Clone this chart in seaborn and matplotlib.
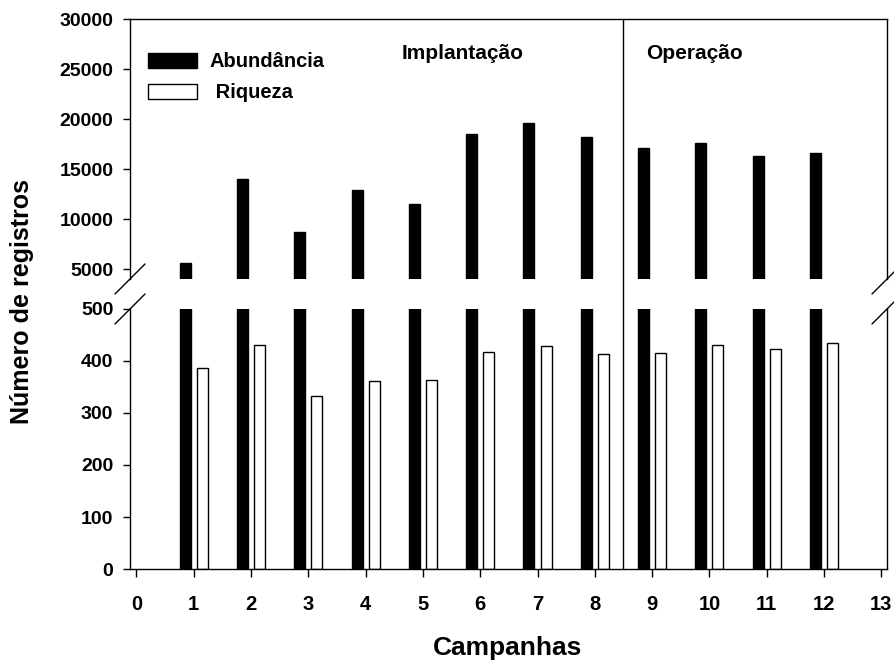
import pandas as pd
import matplotlib
matplotlib.use("Agg")
import matplotlib.pyplot as plt
from matplotlib.patches import Patch
from matplotlib import font_manager
import seaborn as sns

# Field campaigns and the two series recorded in each one
campanhas = [1, 2, 3, 4, 5, 6, 7, 8, 9, 10, 11, 12]
abundancia = [5600, 14000, 8670, 12900, 11550, 18530, 19600, 18170, 17130, 17570, 16300, 16600]
riqueza = [386, 430, 332, 362, 364, 418, 428, 414, 416, 430, 424, 434]
series = ["Abundância", "Riqueza"]
legend_labels = ["Abundância", " Riqueza"]

x_ticks = list(range(0, 14))
upper_ticks = [5000, 10000, 15000, 20000, 25000, 30000]
lower_ticks = [0, 100, 200, 300, 400, 500]
fases = ["Implantação", "Operação"]
fase_limite = 8.5

sns.set_theme(style="ticks")
plt.rcParams["font.family"] = ["Liberation Sans", "DejaVu Sans"]
plt.rcParams["font.weight"] = "bold"
plt.rcParams["axes.edgecolor"] = "black"
plt.rcParams["text.color"] = "black"
plt.rcParams["axes.labelcolor"] = "black"
plt.rcParams["xtick.color"] = "black"
plt.rcParams["ytick.color"] = "black"

available = {f.name for f in font_manager.fontManager.ttflist}
narrow = "Liberation Sans Narrow" if "Liberation Sans Narrow" in available else "Liberation Sans"

W, H = 894, 661
fig = plt.figure(figsize=(W / 100, H / 100), dpi=100)


def box(l, t, r, b):
    return [l / W, 1 - b / H, (r - l) / W, (b - t) / H]


ax_up = fig.add_axes(box(130, 19, 887, 279))
ax_lo = fig.add_axes(box(130, 309, 887, 569))

df = pd.DataFrame({
    "Campanha": campanhas * 2,
    "Série": [series[0]] * len(campanhas) + [series[1]] * len(campanhas),
    "Valor": abundancia + riqueza,
})
palette = {series[0]: "black", series[1]: "white"}

for ax in (ax_up, ax_lo):
    sns.barplot(data=df, x="Campanha", y="Valor", hue="Série", hue_order=series,
                palette=palette, native_scale=True, width=0.6, gap=0.36,
                dodge=True, edgecolor="black", linewidth=1, saturation=1,
                errorbar=None, legend=False, ax=ax)
    ax.set_xlim(-0.113, 13.1)
    ax.set_xlabel("")
    ax.set_ylabel("")
    for s in ax.spines.values():
        s.set_linewidth(1)
        s.set_color("black")
    ax.tick_params(axis="y", direction="out", length=5, width=1, pad=7,
                   labelsize=14)

# upper panel: large counts
ax_up.set_ylim(4000, 30000)
ax_up.set_yticks(upper_ticks)
ax_up.spines["bottom"].set_visible(False)
ax_up.tick_params(axis="x", bottom=False, labelbottom=False)

# lower panel: small counts
ax_lo.set_ylim(0, 500)
ax_lo.set_yticks(lower_ticks)
ax_lo.spines["top"].set_visible(False)
ax_lo.set_xticks(x_ticks)
ax_lo.set_xticklabels([str(t) for t in x_ticks], fontfamily=[narrow, "Liberation Sans"],
                      fontsize=14.5, fontweight="bold")
ax_lo.tick_params(axis="x", direction="out", length=6, width=1, pad=13)

for lab in ax_up.get_yticklabels() + ax_lo.get_yticklabels():
    lab.set_fontweight("bold")

# break marks on both vertical spines
dx_up, dy_up = 15 / 757, 15 / 260
for xc in (0, 1):
    for ax, yc in ((ax_up, 0), (ax_lo, 1)):
        ax.plot([xc - dx_up, xc + dx_up], [yc - dy_up, yc + dy_up],
                transform=ax.transAxes, color="black", lw=1, clip_on=False)

# phase divider spanning both panels
ax_lo.axvline(fase_limite, ymin=0, ymax=(569 - 19) / 260, color="black", lw=1,
              clip_on=False)

ax_up.text(0.44, 0.866, fases[0], transform=ax_up.transAxes, ha="center",
           va="center", fontsize=15, fontweight="bold")
ax_up.text(0.746, 0.866, fases[1], transform=ax_up.transAxes, ha="center",
           va="center", fontsize=15, fontweight="bold")

handles = [Patch(facecolor=palette[s], edgecolor="black", linewidth=1, label=l)
           for s, l in zip(series, legend_labels)]
ax_up.legend(handles=handles, loc="upper left", bbox_to_anchor=(0.0238, 0.872),
             frameon=False, borderpad=0, borderaxespad=0, handlelength=2.45,
             handleheight=0.8, handletextpad=0.62, labelspacing=0.6,
             prop={"weight": "bold", "size": 14.5})

fig.text(22 / W, 1 - 302 / H, "Número de registros", rotation=90, ha="center",
         va="center", fontsize=18, fontweight="bold")
fig.text(508 / W, 1 - 648 / H, "Campanhas", ha="center", va="center",
         fontsize=19, fontweight="bold", fontfamily=[narrow, "Liberation Sans"])

fig.savefig("out.png", dpi=100)
